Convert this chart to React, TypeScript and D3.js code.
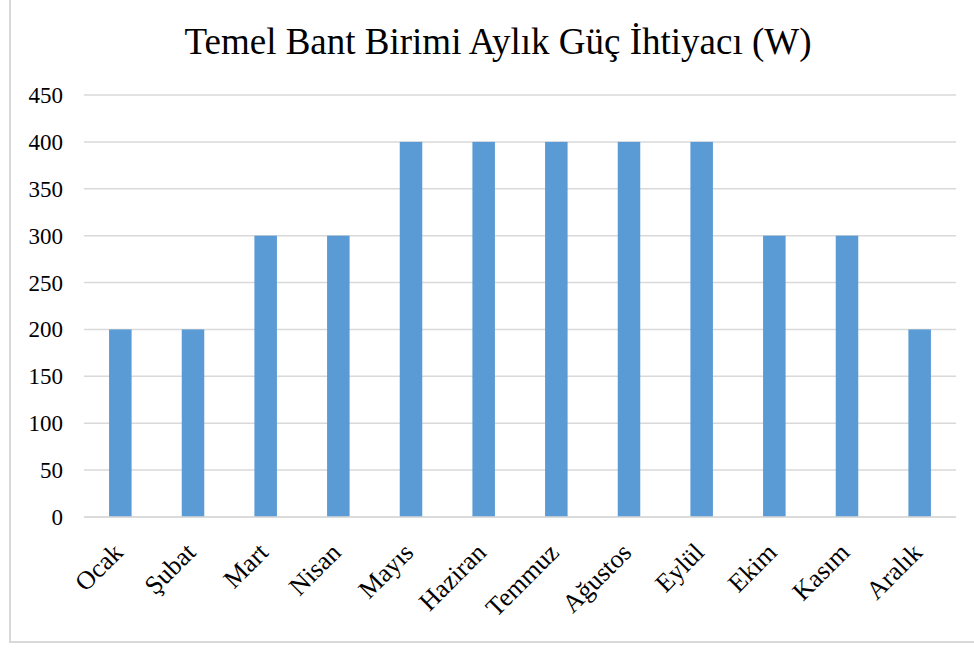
import React, { useEffect, useRef } from "react";
import * as d3 from "d3";

const months = ["Ocak", "Şubat", "Mart", "Nisan", "Mayıs", "Haziran", "Temmuz", "Ağustos", "Eylül", "Ekim", "Kasım", "Aralık"];
const power = [200, 200, 300, 300, 400, 400, 400, 400, 400, 300, 300, 200];
const yTicks = [0, 50, 100, 150, 200, 250, 300, 350, 400, 450];
const title = "Temel Bant Birimi Aylık Güç İhtiyacı (W)";

const W = 974;
const H = 648;
const m = { left: 84, right: 956, top: 95, bottom: 517 };
const font = "'Liberation Serif', 'Times New Roman', serif";

const App = () => {
  const ref = useRef<SVGGElement>(null);

  useEffect(() => {
    const g = d3.select(ref.current);
    g.selectAll("*").remove();

    const x = d3.scaleBand().domain(months).range([m.left, m.right]).paddingInner(0.69).paddingOuter(0.345);
    const y = d3.scaleLinear().domain([0, 450]).range([m.bottom, m.top]);

    // frame
    g.append("rect")
      .attr("x", 10)
      .attr("y", -5)
      .attr("width", 990)
      .attr("height", 647)
      .attr("fill", "white")
      .attr("stroke", "#d9d9d9")
      .attr("stroke-width", 2);

    g.append("text")
      .attr("x", 498)
      .attr("y", 53.5)
      .attr("text-anchor", "middle")
      .style("font-family", font)
      .style("font-size", "37px")
      .attr("fill", "#000")
      .text(title);

    // gridlines
    g.selectAll("line.grid")
      .data(yTicks)
      .enter()
      .append("line")
      .attr("class", "grid")
      .attr("x1", m.left)
      .attr("x2", m.right)
      .attr("y1", d => y(d))
      .attr("y2", d => y(d))
      .attr("stroke", "#d9d9d9")
      .attr("stroke-width", 1.5);

    g.selectAll("text.ytick")
      .data(yTicks)
      .enter()
      .append("text")
      .attr("class", "ytick")
      .attr("x", 63)
      .attr("y", d => y(d))
      .attr("dy", "0.35em")
      .attr("text-anchor", "end")
      .style("font-family", font)
      .style("font-size", "23px")
      .text(d => d);

    g.selectAll("rect.bar")
      .data(power)
      .enter()
      .append("rect")
      .attr("class", "bar")
      .attr("x", (d, i) => x(months[i]) as number)
      .attr("width", x.bandwidth())
      .attr("y", d => y(d))
      .attr("height", d => y(0) - y(d))
      .attr("fill", "#5b9bd5");

    // redraw baseline over bars
    g.append("line")
      .attr("x1", m.left)
      .attr("x2", m.right)
      .attr("y1", y(0))
      .attr("y2", y(0))
      .attr("stroke", "#d9d9d9")
      .attr("stroke-width", 1.5);

    g.selectAll("text.xtick")
      .data(months)
      .enter()
      .append("text")
      .attr("class", "xtick")
      .attr("text-anchor", "end")
      .attr("transform", d => `translate(${(x(d) as number) + x.bandwidth() / 2 + 4},${m.bottom + 37}) rotate(-45)`)
      .style("font-family", font)
      .style("font-size", "26px")
      .text(d => d);
  }, []);

  return (
    <svg width={W} height={H} style={{ position: "absolute", left: 0, top: 0, background: "white" }}>
      <g ref={ref} />
    </svg>
  );
};

export default App;
